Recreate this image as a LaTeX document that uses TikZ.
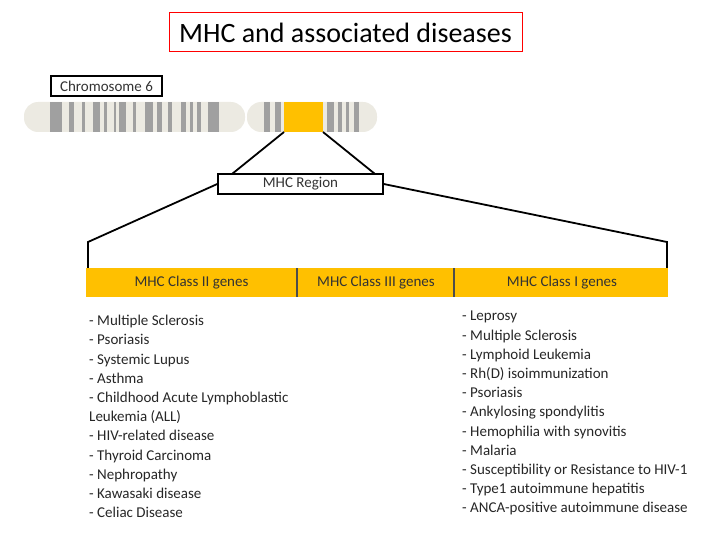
\documentclass[tikz,border=0pt]{standalone}
\usepackage{fontspec}
\setmainfont{Carlito}
\definecolor{gold}{RGB}{255,192,0}
\definecolor{chrom}{RGB}{236,234,226}
\definecolor{band}{RGB}{160,160,160}
\begin{document}
\begin{tikzpicture}[x=1pt,y=-1pt,
  lbl/.style={draw=black,line width=1.4pt,fill=white,inner sep=0pt,font=\fontsize{15}{17}\selectfont,text=black!80},
  lst/.style={anchor=north west,align=left,inner sep=0pt,font=\fontsize{15}{19.2}\selectfont,text=black!85},
  cls/.style={font=\fontsize{15}{17}\selectfont,text=black!80},
  conn/.style={line width=1.8pt}]
\useasboundingbox (0,0) rectangle (720,540);
\node[draw=red,line width=1pt,minimum width=353pt,minimum height=39pt,font=\fontsize{28}{30}\selectfont] (title) at (345.5,32.5) {MHC and associated diseases};
\node[lbl,minimum width=111pt,minimum height=20pt] (chr) at (106.5,86) {Chromosome 6};
\fill[chrom,rounded corners=14pt] (24,102) rectangle (245,132);
\fill[chrom,rounded corners=14pt] (247,102) rectangle (377,132);
\foreach \a/\b in {68/95,110/122,140/148,165/180,190/196,212/218,225/240,255/262,282/300,310/322,335/345,365/375,385/392,400/410,425/450,553/565,578/590,695/710,720/728,738/745,755/768}
  \fill[band] ({20+0.442*\a},102) rectangle ({20+0.442*\b},132);
\fill[gold] (284,102) rectangle (323,132);
\coordinate (yl) at (284,132);
\coordinate (yr) at (323,132);
\node[lbl,minimum width=165pt,minimum height=20pt] (mhc) at (300.5,184) {MHC Region};
\draw[conn] (yl) -- (232,174);
\draw[conn] (yr) -- (375,174);
\node[fill=gold,minimum width=582pt,minimum height=29pt,inner sep=0pt] (bar) at (377,282.5) {};
\coordinate (bl) at (88,242);
\coordinate (br) at (667,242);
\draw[conn] (mhc.west) -- (bl) -- (bar.north west -| bl);
\draw[conn] (mhc.east) -- (br) -- (bar.north east -| br);
\draw[line width=1.5pt,black!70] (297,268) -- (297,297);
\draw[line width=1.5pt,black!70] (454,268) -- (454,297);
\node[cls] (c2) at (191.5,283) {MHC Class II genes};
\node[cls] (c3) at (376,283) {MHC Class III genes};
\node[cls] (c1) at (562,283) {MHC Class I genes};
\node[lst] (l2) at (89,315) {- Multiple Sclerosis\\- Psoriasis\\- Systemic Lupus\\- Asthma\\- Childhood Acute Lymphoblastic\\Leukemia (ALL)\\- HIV-related disease\\- Thyroid Carcinoma\\- Nephropathy\\- Kawasaki disease\\- Celiac Disease};
\node[lst] (l1) at (462,311) {- Leprosy\\- Multiple Sclerosis\\- Lymphoid Leukemia\\- Rh(D) isoimmunization\\- Psoriasis\\- Ankylosing spondylitis\\- Hemophilia with synovitis\\- Malaria\\- Susceptibility or Resistance to HIV-1\\- Type1 autoimmune hepatitis\\- ANCA-positive autoimmune disease};
\end{tikzpicture}
\end{document}
